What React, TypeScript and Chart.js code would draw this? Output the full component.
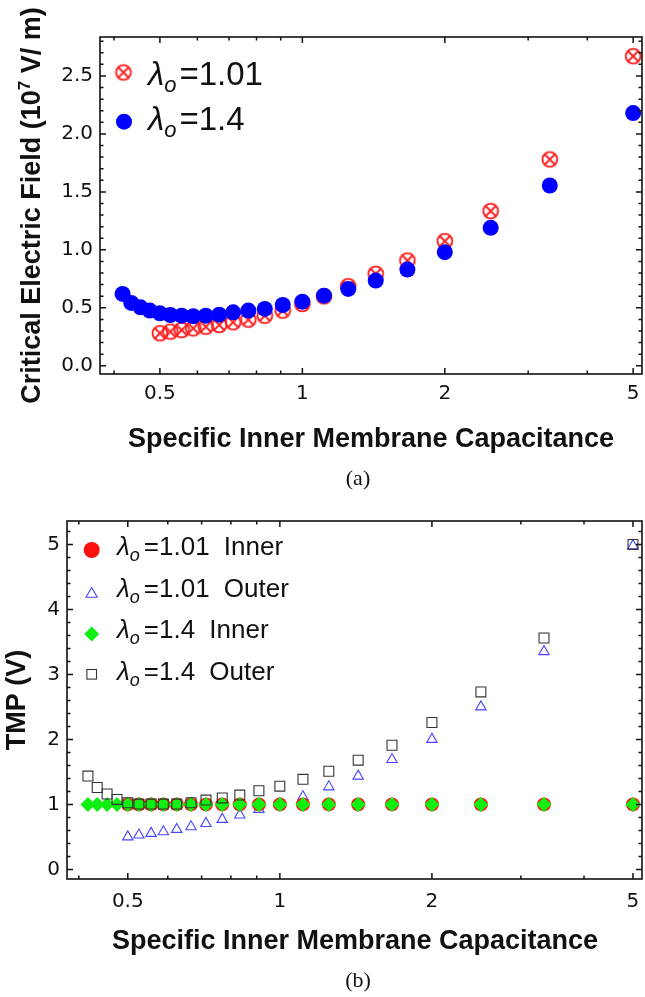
import React, { useEffect, useRef } from 'react';
import { Chart, registerables } from 'chart.js';

Chart.register(...registerables);

// ---------------- data ----------------
const capacitance = [0.417, 0.435, 0.455, 0.476, 0.5, 0.526, 0.556, 0.588, 0.625, 0.667, 0.714, 0.769, 0.833, 0.909, 1, 1.111, 1.25, 1.429, 1.667, 2, 2.5, 3.333, 5];

// (a) Critical electric field (10^7 V/m)
const fieldL101 = [null, null, null, null, 0.28, 0.294, 0.308, 0.323, 0.337, 0.352, 0.375, 0.398, 0.432, 0.476, 0.533, 0.599, 0.686, 0.793, 0.908, 1.075, 1.334, 1.78, 2.67];
const fieldL14 = [0.62, 0.542, 0.504, 0.476, 0.452, 0.438, 0.432, 0.427, 0.432, 0.441, 0.461, 0.476, 0.49, 0.524, 0.553, 0.605, 0.663, 0.735, 0.83, 0.98, 1.19, 1.555, 2.18];

// (b) TMP (V)
const tmpInnerL101 = [null, null, null, null, 1, 1, 1, 1, 1, 1, 1, 1, 1, 1, 1, 1, 1, 1, 1, 1, 1, 1, 1];
const tmpOuterL101 = [null, null, null, null, 0.5, 0.528, 0.554, 0.579, 0.615, 0.655, 0.707, 0.769, 0.836, 0.923, 1.01, 1.117, 1.27, 1.435, 1.69, 2.0, 2.5, 3.35, 4.98];
const tmpInnerL14 = [1, 1, 1, 1, 1, 1, 1, 1, 1, 1, 1, 1, 1, 1, 1, 1, 1, 1, 1, 1, 1, 1, 1];
const tmpOuterL14 = [1.435, 1.26, 1.16, 1.077, 1.025, 1.005, 1.005, 1.005, 1.005, 1.025, 1.066, 1.1, 1.143, 1.21, 1.28, 1.385, 1.51, 1.68, 1.91, 2.26, 2.73, 3.56, 5.0];

// ticks
const xTickValues = [0.5, 1, 2, 5];
const xTickLabels = ['0.5', '1', '2', '5'];
const xMinorValues = [0.4, 0.6, 0.7, 0.8, 0.9, 3, 4];
const yTickValuesA = [0, 0.5, 1, 1.5, 2, 2.5];
const yTickLabelsA = ['0.0', '0.5', '1.0', '1.5', '2.0', '2.5'];
const yTickValuesB = [0, 1, 2, 3, 4, 5];
const yTickLabelsB = ['0', '1', '2', '3', '4', '5'];

// text
const xTitle = 'Specific Inner Membrane Capacitance';
const yTitleA = ['Critical Electric Field (10', '7', ' V/ m)'];
const yTitleB = 'TMP (V)';
const legendA = ['1.01', '1.4'];
const legendB = ['1.01 Inner', '1.01 Outer', '1.4 Inner', '1.4 Outer'];

// ---------------- helpers ----------------
const SANS = '"Liberation Sans", Arial, sans-serif';
const TICKFONT = '"DejaVu Sans", "Liberation Sans", sans-serif';
const SERIF = '"Liberation Serif", "Times New Roman", serif';
const W = 645;

function minorSteps(from: number, to: number, step: number, majorEvery: number) {
  const out: number[] = [];
  const n = Math.round((to - from) / step);
  for (let i = 0; i <= n; i++) {
    const k = Math.round(from / step) + i;
    if (k % majorEvery !== 0) out.push(+(k * step).toFixed(4));
  }
  return out;
}

function pts(xs: number[], ys: (number | null)[]) {
  return xs.map((x, i) => ({ x, y: ys[i] })).filter((p) => p.y !== null);
}

function makeOtimes(r: number, color: string, lw: number) {
  const s = Math.ceil(2 * r + lw + 2) | 0;
  const size = s % 2 === 0 ? s : s + 1;
  const c = document.createElement('canvas');
  c.width = size;
  c.height = size;
  const g = c.getContext('2d')!;
  const m = size / 2;
  g.strokeStyle = color;
  g.lineWidth = lw;
  g.beginPath();
  g.arc(m, m, r, 0, Math.PI * 2);
  g.stroke();
  const d = r * Math.SQRT1_2;
  g.beginPath();
  g.moveTo(m - d, m - d);
  g.lineTo(m + d, m + d);
  g.moveTo(m + d, m - d);
  g.lineTo(m - d, m + d);
  g.stroke();
  return c;
}

const frameTicksPlugin = {
  id: 'frameTicks',
  afterDraw(chart: any, _a: any, opts: any) {
    const { ctx, chartArea: a } = chart;
    const xs = chart.scales.x;
    const ys = chart.scales.y;
    ctx.save();
    ctx.strokeStyle = '#111';
    ctx.lineWidth = 1.6;
    ctx.strokeRect(a.left, a.top, a.right - a.left, a.bottom - a.top);
    ctx.lineWidth = 1.5;
    ctx.beginPath();
    const seg = (x1: number, y1: number, x2: number, y2: number) => {
      ctx.moveTo(x1, y1);
      ctx.lineTo(x2, y2);
    };
    const xsets: [number[], number][] = [[opts.xMajor, 6], [opts.xMinor, 3.5]];
    for (const [vals, len] of xsets) {
      for (const v of vals) {
        const x = xs.getPixelForValue(v);
        seg(x, a.bottom, x, a.bottom - len);
        seg(x, a.top, x, a.top + len);
      }
    }
    const ysets: [number[], number][] = [[opts.yMajor, 6], [opts.yMinor, 3.5]];
    for (const [vals, len] of ysets) {
      for (const v of vals) {
        const y = ys.getPixelForValue(v);
        if (y < a.top || y > a.bottom) continue;
        seg(a.left, y, a.left + len, y);
        seg(a.right, y, a.right - len, y);
      }
    }
    ctx.stroke();
    ctx.restore();
  },
};

type Part = { t: string; f: string; dy?: number; dx?: number };
type TextItem = { parts: Part[]; x: number; y: number; align?: 'left' | 'center'; rotate?: boolean };

const textPlugin = {
  id: 'texts',
  afterDraw(chart: any, _a: any, opts: any) {
    const ctx = chart.ctx as CanvasRenderingContext2D;
    (opts.symbols || []).forEach((s: any) => {
      ctx.save();
      s.draw(ctx, s.x, s.y);
      ctx.restore();
    });
    for (const it of opts.items as TextItem[]) {
      ctx.save();
      ctx.translate(it.x, it.y);
      if (it.rotate) ctx.rotate(-Math.PI / 2);
      ctx.fillStyle = '#111';
      ctx.textBaseline = 'alphabetic';
      ctx.textAlign = 'left';
      const ws = it.parts.map((p) => {
        ctx.font = p.f;
        return ctx.measureText(p.t).width + (p.dx || 0);
      });
      const total = ws.reduce((s, w) => s + w, 0);
      let x = it.align === 'left' ? 0 : -total / 2;
      it.parts.forEach((p, i) => {
        ctx.font = p.f;
        ctx.fillText(p.t, x + (p.dx || 0), p.dy || 0);
        x += ws[i];
      });
      ctx.restore();
    }
  },
};

function axisX(min: number, max: number, height: number, padding: number) {
  return {
    type: 'logarithmic',
    min,
    max,
    afterBuildTicks: (s: any) => {
      s.ticks = xTickValues.map((v) => ({ value: v }));
    },
    afterFit: (s: any) => {
      s.height = height;
      s.paddingLeft = 0;
      s.paddingRight = 0;
    },
    grid: { display: false, drawTicks: false },
    border: { display: false },
    ticks: {
      autoSkip: false,
      maxRotation: 0,
      minRotation: 0,
      padding,
      color: '#111',
      font: { family: TICKFONT, size: 20 },
      callback: (_v: any, i: number) => xTickLabels[i],
    },
  };
}

function axisY(min: number, max: number, width: number, values: number[], labels: string[]) {
  return {
    type: 'linear',
    min,
    max,
    afterBuildTicks: (s: any) => {
      s.ticks = values.map((v) => ({ value: v }));
    },
    afterFit: (s: any) => {
      s.width = width;
      s.paddingTop = 0;
      s.paddingBottom = 0;
    },
    grid: { display: false, drawTicks: false },
    border: { display: false },
    ticks: {
      padding: 7,
      color: '#111',
      font: { family: TICKFONT, size: 20 },
      callback: (_v: any, i: number) => labels[i],
    },
  };
}

function legendParts(value: string, size: number, sub: number, subDy: number, gap: number): Part[] {
  const [num, word] = value.split(' ');
  const parts: Part[] = [
    { t: 'λ', f: `italic ${size}px ${SANS}` },
    { t: 'o', f: `italic ${sub}px ${SANS}`, dy: subDy },
    { t: '=' + num, f: `${size}px ${SANS}`, dx: gap },
  ];
  if (word) parts.push({ t: ' ' + word, f: `${size}px ${SANS}`, dx: 7 });
  return parts;
}

// ---------------- chart (a) ----------------
function makeConfigA() {
  const otimes = makeOtimes(7.4, '#ff1f1f', 1.9);
  const titleFont = `bold 27px ${SANS}`;
  return {
    type: 'scatter',
    data: {
      datasets: [
        {
          label: 'λo=1.01',
          data: pts(capacitance, fieldL101),
          pointStyle: otimes,
          pointRadius: 8,
          order: 1,
          clip: false,
        },
        {
          label: 'λo=1.4',
          data: pts(capacitance, fieldL14),
          pointStyle: 'circle',
          pointRadius: 8,
          pointBackgroundColor: '#0000ff',
          pointBorderWidth: 0,
          order: 0,
          clip: false,
        },
      ],
    },
    options: {
      responsive: false,
      animation: false,
      devicePixelRatio: 1,
      events: [],
      layout: { autoPadding: false, padding: { left: 0, right: 3, top: 37, bottom: 0 } },
      plugins: {
        legend: { display: false },
        tooltip: { enabled: false },
        frameTicks: {
          xMajor: xTickValues,
          xMinor: xMinorValues,
          yMajor: yTickValuesA,
          yMinor: minorSteps(0.1, 2.8, 0.1, 5),
        },
        texts: {
          symbols: [
            { x: 123.5, y: 72.5, draw: (c: any, x: number, y: number) => c.drawImage(otimes, x - otimes.width / 2, y - otimes.height / 2) },
            {
              x: 124,
              y: 121.7,
              draw: (c: any, x: number, y: number) => {
                c.fillStyle = '#0000ff';
                c.beginPath();
                c.arc(x, y, 8, 0, Math.PI * 2);
                c.fill();
              },
            },
          ],
          items: [
            { parts: legendParts(legendA[0], 33, 22, 7, 3), x: 148, y: 85, align: 'left' },
            { parts: legendParts(legendA[1], 33, 22, 7, 3), x: 148, y: 130, align: 'left' },
            { parts: [{ t: xTitle, f: titleFont }], x: 371, y: 447 },
            {
              parts: [
                { t: yTitleA[0], f: titleFont },
                { t: yTitleA[1], f: `bold 17px ${SANS}`, dy: -10 },
                { t: yTitleA[2], f: titleFont },
              ],
              x: 40,
              y: 205.5,
              rotate: true,
            },
            { parts: [{ t: '(a)', f: `22px ${SERIF}` }], x: 358, y: 485 },
          ],
        },
      },
      scales: {
        x: axisX(0.3736, 5.22, 124, 8),
        y: axisY(-0.071, 2.836, 100, yTickValuesA, yTickLabelsA),
      },
    },
    plugins: [frameTicksPlugin, textPlugin],
  };
}

// ---------------- chart (b) ----------------
function makeConfigB() {
  const titleFont = `bold 27px ${SANS}`;
  const red = '#ff1010';
  const green = '#11ee11';
  const triColor = '#4646ff';
  const sqColor = '#333333';
  const diamond = (c: any, x: number, y: number, r: number) => {
    c.fillStyle = green;
    c.beginPath();
    c.moveTo(x - r, y);
    c.lineTo(x, y - r);
    c.lineTo(x + r, y);
    c.lineTo(x, y + r);
    c.closePath();
    c.fill();
  };
  return {
    type: 'scatter',
    data: {
      datasets: [
        {
          label: 'λo=1.01 Inner',
          data: pts(capacitance, tmpInnerL101),
          pointStyle: 'circle',
          pointRadius: 7,
          pointBackgroundColor: red,
          pointBorderWidth: 0,
          order: 2,
          clip: false,
        },
        {
          label: 'λo=1.01 Outer',
          data: pts(capacitance, tmpOuterL101),
          pointStyle: 'triangle',
          pointRadius: 6,
          pointBackgroundColor: 'rgba(0,0,0,0)',
          pointBorderColor: triColor,
          pointBorderWidth: 1.1,
          order: 3,
          clip: false,
        },
        {
          label: 'λo=1.4 Inner',
          data: pts(capacitance, tmpInnerL14),
          pointStyle: 'rectRot',
          pointRadius: 7.5,
          pointBackgroundColor: green,
          pointBorderWidth: 0,
          order: 1,
          clip: false,
        },
        {
          label: 'λo=1.4 Outer',
          data: pts(capacitance, tmpOuterL14),
          pointStyle: 'rect',
          pointRadius: 7,
          pointBackgroundColor: 'rgba(0,0,0,0)',
          pointBorderColor: sqColor,
          pointBorderWidth: 1.1,
          order: 0,
          clip: false,
        },
      ],
    },
    options: {
      responsive: false,
      animation: false,
      devicePixelRatio: 1,
      events: [],
      layout: { autoPadding: false, padding: { left: 0, right: 3, top: 23, bottom: 0 } },
      plugins: {
        legend: { display: false },
        tooltip: { enabled: false },
        frameTicks: {
          xMajor: xTickValues,
          xMinor: xMinorValues,
          yMajor: yTickValuesB,
          yMinor: minorSteps(0.2, 5.2, 0.2, 5),
        },
        texts: {
          symbols: [
            {
              x: 91.7,
              y: 52,
              draw: (c: any, x: number, y: number) => {
                c.fillStyle = red;
                c.beginPath();
                c.arc(x, y, 8, 0, Math.PI * 2);
                c.fill();
              },
            },
            {
              x: 91.7,
              y: 96,
              draw: (c: any, x: number, y: number) => {
                const r = 6.5;
                c.strokeStyle = triColor;
                c.lineWidth = 1.1;
                c.beginPath();
                c.moveTo(x, y - r);
                c.lineTo(x + r * 0.866, y + r / 2);
                c.lineTo(x - r * 0.866, y + r / 2);
                c.closePath();
                c.stroke();
              },
            },
            { x: 91.7, y: 136, draw: (c: any, x: number, y: number) => diamond(c, x, y, 7.5) },
            {
              x: 91.7,
              y: 176.3,
              draw: (c: any, x: number, y: number) => {
                c.strokeStyle = sqColor;
                c.lineWidth = 1.1;
                c.strokeRect(x - 4.8, y - 4.8, 9.6, 9.6);
              },
            },
          ],
          items: [
            { parts: legendParts(legendB[0], 26, 18, 6, 4), x: 117, y: 57, align: 'left' },
            { parts: legendParts(legendB[1], 26, 18, 6, 4), x: 117, y: 98.7, align: 'left' },
            { parts: legendParts(legendB[2], 26, 18, 6, 4), x: 117, y: 140, align: 'left' },
            { parts: legendParts(legendB[3], 26, 18, 6, 4), x: 117, y: 182, align: 'left' },
            { parts: [{ t: xTitle, f: titleFont }], x: 355, y: 451 },
            { parts: [{ t: yTitleB, f: titleFont }], x: 25, y: 202, rotate: true },
            { parts: [{ t: '(b)', f: `22px ${SERIF}` }], x: 358, y: 489 },
          ],
        },
      },
      scales: {
        x: axisX(0.379, 5.21, 118, 11),
        y: axisY(-0.148, 5.36, 67, yTickValuesB, yTickLabelsB),
      },
    },
    plugins: [frameTicksPlugin, textPlugin],
  };
}

function ChartCanvas({ make, top, height }: { make: () => any; top: number; height: number }) {
  const ref = useRef<HTMLCanvasElement>(null);
  useEffect(() => {
    const chart = new Chart(ref.current as HTMLCanvasElement, make());
    return () => chart.destroy();
  }, [make]);
  return (
    <canvas
      ref={ref}
      width={W}
      height={height}
      style={{ position: 'absolute', left: 0, top, width: W, height, display: 'block' }}
    />
  );
}

export default function App() {
  return (
    <div style={{ position: 'absolute', left: 0, top: 0, width: W, height: 997, background: '#fff' }}>
      <ChartCanvas make={makeConfigA} top={0} height={498} />
      <ChartCanvas make={makeConfigB} top={498} height={499} />
    </div>
  );
}
